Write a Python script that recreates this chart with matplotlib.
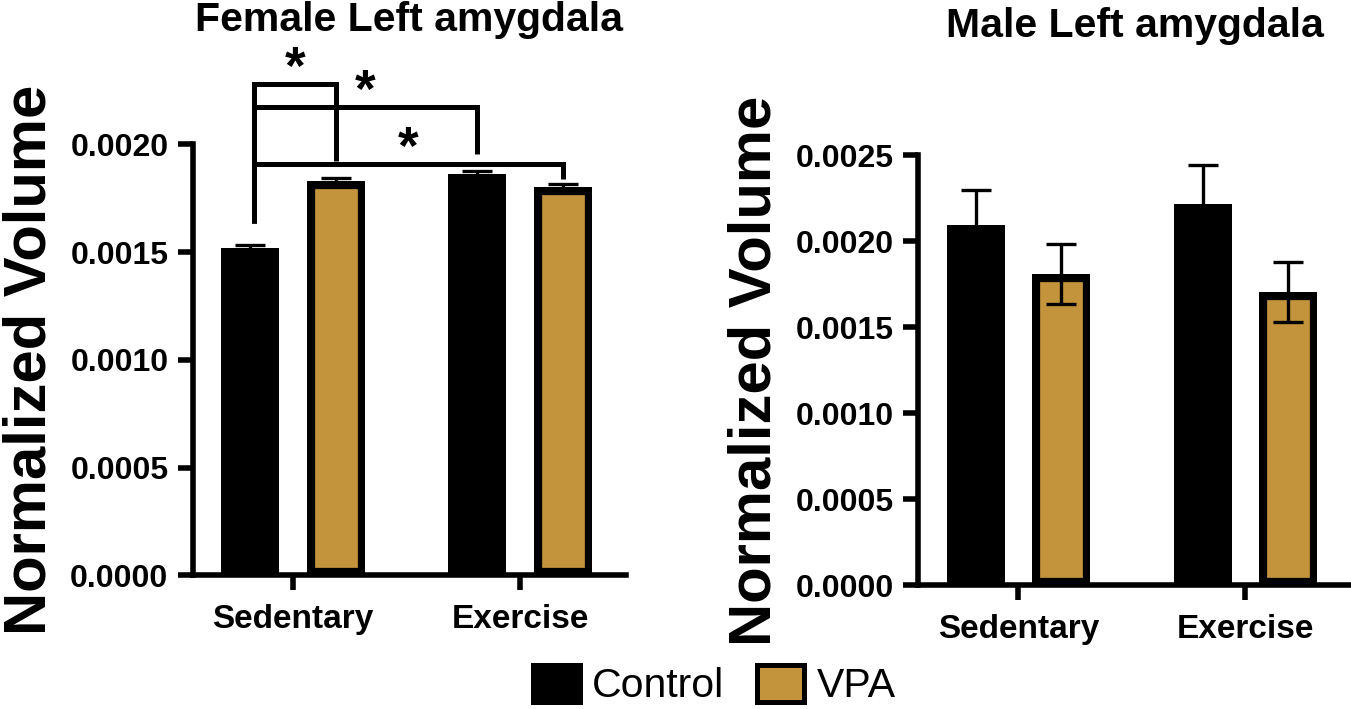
import numpy as np
import matplotlib
matplotlib.use("Agg")
import matplotlib.pyplot as plt
from matplotlib.patches import Patch

plt.rcParams["font.family"] = ["Liberation Sans", "DejaVu Sans"]

# === Data ===
groups = ["Sedentary", "Exercise"]
series = ["Control", "VPA"]

female_control = [0.001518, 0.001862]
female_control_sem = [0.000015, 0.000013]
female_vpa = [0.001830, 0.001802]
female_vpa_sem = [0.000012, 0.000012]

male_control = [0.002096, 0.002218]
male_control_sem = [0.000202, 0.000225]
male_vpa = [0.001811, 0.001706]
male_vpa_sem = [0.000177, 0.000174]

female_yticks = [0.0, 0.0005, 0.0010, 0.0015, 0.0020]
male_yticks = [0.0, 0.0005, 0.0010, 0.0015, 0.0020, 0.0025]

# significance comparisons: (group a, series a, group b, series b, label)
female_sig = [
    (0, 0, 0, 1, "*"),
    (0, 0, 1, 0, "*"),
    (0, 0, 1, 1, "*"),
]
# bracket layout: (bar height, drop at a, drop at b)
female_sig_layout = [
    (0.002278, 0.001636, 0.001924),
    (0.002172, 0.001636, 0.001955),
    (0.001907, 0.001636, 0.001838),
]

TAN = "#C4943C"
OFF = 0.188
WIDTH = 0.256
XLIM = (-0.442, 1.465)


def draw_panel(ax, ctrl, ctrl_err, vpa, vpa_err, yticks, title, title_pad):
    x = np.arange(len(groups))
    ax.bar(x - OFF, ctrl, WIDTH, color="black", zorder=2)
    bars = ax.bar(x + OFF, vpa, WIDTH, color=TAN, edgecolor="black",
                  linewidth=11, zorder=2)
    for r in bars:
        r.set_clip_path(r)  # keep the outline inside the bar
    for xs, ys, es in [(x - OFF, ctrl, ctrl_err), (x + OFF, vpa, vpa_err)]:
        ax.errorbar(xs, ys, yerr=es, fmt="none", ecolor="black",
                    elinewidth=2.4, capsize=10.8, capthick=2.4, zorder=3)

    ax.set_xlim(*XLIM)
    ax.set_ylim(yticks[0], yticks[-1])
    ax.set_yticks(yticks, [f"{v:.4f}" for v in yticks])
    ax.set_xticks(x, groups)
    ax.spines[["top", "right"]].set_visible(False)
    for s in ["left", "bottom"]:
        ax.spines[s].set_linewidth(4)
    ax.tick_params(axis="both", direction="out", length=11, width=4)
    ax.tick_params(axis="y", pad=6.5, labelsize=23)
    ax.tick_params(axis="x", pad=9.5, labelsize=24)
    for lab in ax.get_xticklabels() + ax.get_yticklabels():
        lab.set_fontweight("bold")
    ax.set_ylabel("Normalized Volume", fontsize=43, fontweight="bold")
    ax.yaxis.set_label_coords(-0.313, 0.5)
    ax.set_title(title, fontsize=29.5, fontweight="bold", pad=title_pad)


fig = plt.figure(figsize=(13.51, 7.09), dpi=100)
ax1 = fig.add_axes([192.7 / 1351, 0.1883, 433 / 1351, 0.6082])
ax2 = fig.add_axes([918 / 1351, 0.1742, 433 / 1351, 0.6065])

draw_panel(ax1, female_control, female_control_sem, female_vpa, female_vpa_sem,
           female_yticks, "Female Left amygdala", 81.8)
draw_panel(ax2, male_control, male_control_sem, male_vpa, male_vpa_sem,
           male_yticks, "Male Left amygdala", 85.2)

# === Significance brackets ===
for (ga, sa, gb, sb, lab), (h, da, db) in zip(female_sig, female_sig_layout):
    xa = ga + (OFF if sa else -OFF) + 0.015
    xb = gb + (OFF if sb else -OFF)
    ax1.plot([xa, xa, xb, xb], [da, h, h, db], color="black", lw=3.6,
             clip_on=False, solid_joinstyle="miter", solid_capstyle="butt")
    ax1.annotate(lab, xy=((xa + xb) / 2, h), xytext=(0, 10.5),
                 textcoords="offset points", ha="center", va="center",
                 fontsize=38, fontweight="bold", annotation_clip=False)

# === Legend ===
handles = [Patch(facecolor="black", edgecolor="black", linewidth=3.6),
           Patch(facecolor=TAN, edgecolor="black", linewidth=3.6)]
fig.legend(handles, series, ncol=2, loc="center",
           bbox_to_anchor=(714 / 1351, (709 - 685) / 709), frameon=False,
           fontsize=29.5, handlelength=1.15, handleheight=1.02,
           handletextpad=0.29, columnspacing=0.82)

plt.savefig("out.png", dpi=100)
